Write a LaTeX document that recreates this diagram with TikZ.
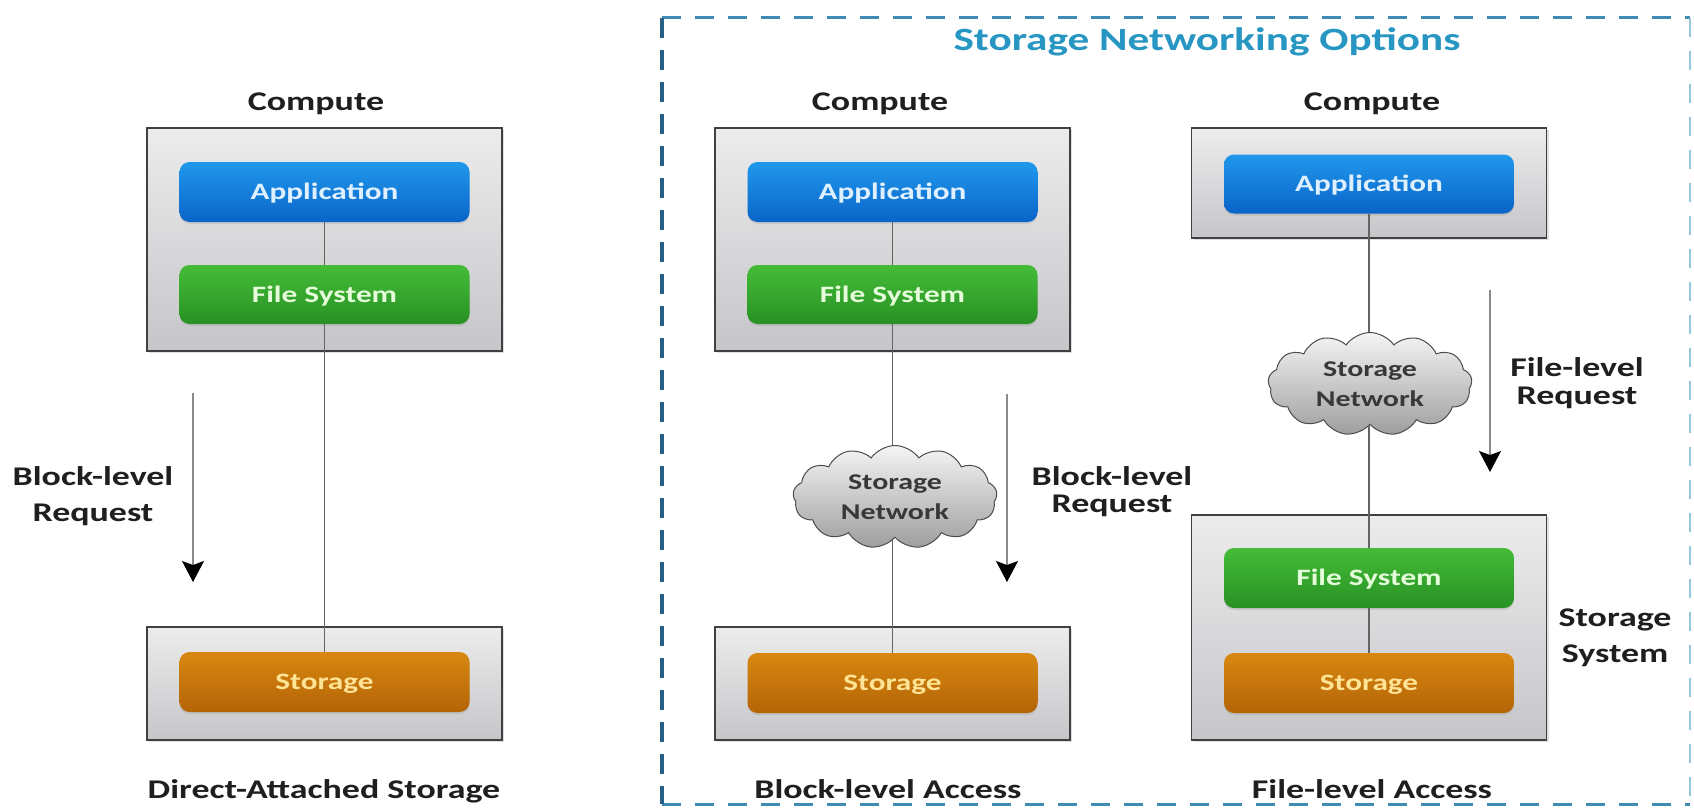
\documentclass[tikz,border=0pt]{standalone}
\usepackage{fontspec}
\setmainfont{Carlito}[FakeStretch=1.33]
\usetikzlibrary{shapes.symbols,arrows.meta,shadows}
\definecolor{appTop}{RGB}{32,152,236}
\definecolor{appBot}{RGB}{10,100,200}
\definecolor{appTxt}{RGB}{222,240,255}
\definecolor{fsTop}{RGB}{68,188,56}
\definecolor{fsBot}{RGB}{40,145,35}
\definecolor{fsTxt}{RGB}{228,252,218}
\definecolor{stTop}{RGB}{216,136,16}
\definecolor{stBot}{RGB}{180,100,6}
\definecolor{stTxt}{RGB}{255,228,150}
\definecolor{boxTop}{RGB}{236,236,236}
\definecolor{boxBot}{RGB}{198,198,202}
\definecolor{titleCol}{RGB}{40,150,195}
\definecolor{dashTop}{RGB}{60,140,180}
\definecolor{dashRight}{RGB}{150,200,225}
\definecolor{dashLeft}{RGB}{40,95,135}
\definecolor{connCol}{RGB}{100,100,100}
\definecolor{arrCol}{RGB}{140,140,140}
\begin{document}
\begin{tikzpicture}[x=1pt,y=-1pt,
  lab/.style={font=\fontsize{27}{36}\selectfont\bfseries, text=black!88, inner sep=0pt},
  graybox/.style={draw=black!75, line width=1.8pt, top color=boxTop, bottom color=boxBot,
    minimum width=355pt, inner sep=0pt,
    drop shadow={shadow xshift=2pt,shadow yshift=-2pt,opacity=0.25}},
  btn/.style={rounded corners=10pt, minimum width=290pt, minimum height=60pt, inner sep=0pt,
    font=\fontsize{23.5}{28}\selectfont\bfseries, text height=15pt, text depth=0pt,
    drop shadow={shadow xshift=0pt,shadow yshift=-2pt,opacity=0.2}},
  appbtn/.style={btn, top color=appTop, bottom color=appBot, text=appTxt},
  fsbtn/.style={btn, top color=fsTop, bottom color=fsBot, text=fsTxt},
  stbtn/.style={btn, top color=stTop, bottom color=stBot, text=stTxt},
  netcloud/.style={cloud, cloud puffs=13, cloud puff arc=110, aspect=2, draw=black!70, line width=1pt,
    top color=white!96!black, bottom color=black!38, minimum width=204pt, minimum height=103pt,
    inner sep=0pt, align=center, text=black!78,
    font=\fontsize{22.5}{30}\selectfont\bfseries},
  conn/.style={draw=connCol, line width=1.2pt},
  req/.style={draw=arrCol, line width=1.3pt, -{Stealth[length=21pt,width=22pt,inset=4pt,color=black]}}
]
\useasboundingbox (0,0) rectangle (1694,808);
\fill[white] (0,0) rectangle (1694,808);

% dashed frame
\draw[dashTop, line width=3pt, dash pattern=on 19pt off 14pt] (662,18) -- (1690,18);
\draw[dashTop, line width=3pt, dash pattern=on 19pt off 14pt] (662,804) -- (1690,804);
\draw[dashRight, line width=2.5pt, dash pattern=on 19pt off 14pt] (1690,18) -- (1690,804);
\draw[dashLeft, line width=3.2pt, dash pattern=on 20pt off 12pt] (662,18) -- (662,804);
\node[font=\fontsize{32.5}{36}\selectfont\bfseries, text=titleCol, anchor=base, inner sep=0pt] (title) at (1207,51) {Storage Networking Options};

% ---------- Left: Direct-Attached Storage
\node[lab, anchor=base] (c1lab) at (316,110) {Compute};
\node[graybox, minimum height=223pt] (c1) at (324.5,239.5) {};
\node[appbtn] (app1) at (324.5,192) {Application};
\node[fsbtn, minimum height=59pt] (fs1) at (324.5,294.5) {File System};
\node[graybox, minimum height=113pt] (s1) at (324.5,683.5) {};
\node[stbtn] (st1) at (324.5,682) {Storage};
\draw[conn] (app1) -- (fs1);
\draw[conn] (fs1) -- (st1);
\coordinate (a1s) at (193,393);
\coordinate (a1e) at (193,582);
\draw[req] (a1s) -- (a1e);
\node[lab, align=center] (r1) at (93,496) {Block-level\\Request};
\node[lab, anchor=base] (l1) at (324,798) {Direct-Attached Storage};

% ---------- Middle: Block-level Access
\node[lab, anchor=base] (c2lab) at (880,110) {Compute};
\node[graybox, minimum height=223pt] (c2) at (892.5,239.5) {};
\node[appbtn] (app2) at (892.5,192) {Application};
\node[fsbtn, minimum height=59pt] (fs2) at (892.5,294.5) {File System};
\node[netcloud] (net2) at (895,497) {Storage\\Network};
\node[graybox, minimum height=113pt] (s2) at (892.5,683.5) {};
\node[stbtn] (st2) at (892.5,683) {Storage};
\draw[conn] (app2) -- (fs2);
\draw[conn] (fs2) -- (fs2 |- net2.north);
\draw[conn] (st2 |- net2.south) -- (st2);
\coordinate (a2s) at (1007,394);
\coordinate (a2e) at (1007,582);
\draw[req] (a2s) -- (a2e);
\node[lab, align=center, font=\fontsize{27}{27}\selectfont\bfseries] (r2) at (1112,492) {Block-level\\Request};
\node[lab, anchor=base] (l2) at (888,798) {Block-level Access};

% ---------- Right: File-level Access
\node[lab, anchor=base] (c3lab) at (1372,110) {Compute};
\node[graybox, minimum height=110pt] (c3) at (1369,183) {};
\node[appbtn, minimum height=59pt] (app3) at (1369,184) {Application};
\node[netcloud] (net3) at (1370,384) {Storage\\Network};
\node[graybox, minimum height=225pt] (s3) at (1369,627.5) {};
\node[fsbtn] (fs3) at (1369,578) {File System};
\node[stbtn] (st3) at (1369,683) {Storage};
\draw[conn] (app3) -- (app3 |- net3.north);
\draw[conn] (fs3 |- net3.south) -- (fs3);
\draw[conn] (fs3) -- (st3);
\coordinate (a3s) at (1490,290);
\coordinate (a3e) at (1490,472);
\draw[req] (a3s) -- (a3e);
\node[lab, align=center, font=\fontsize{27}{28}\selectfont\bfseries] (r3) at (1577,383) {File-level\\Request};
\node[lab, align=center] (ss3) at (1615,638) {Storage\\System};
\node[lab, anchor=base] (l3) at (1372,798) {File-level Access};
\end{tikzpicture}
\end{document}
